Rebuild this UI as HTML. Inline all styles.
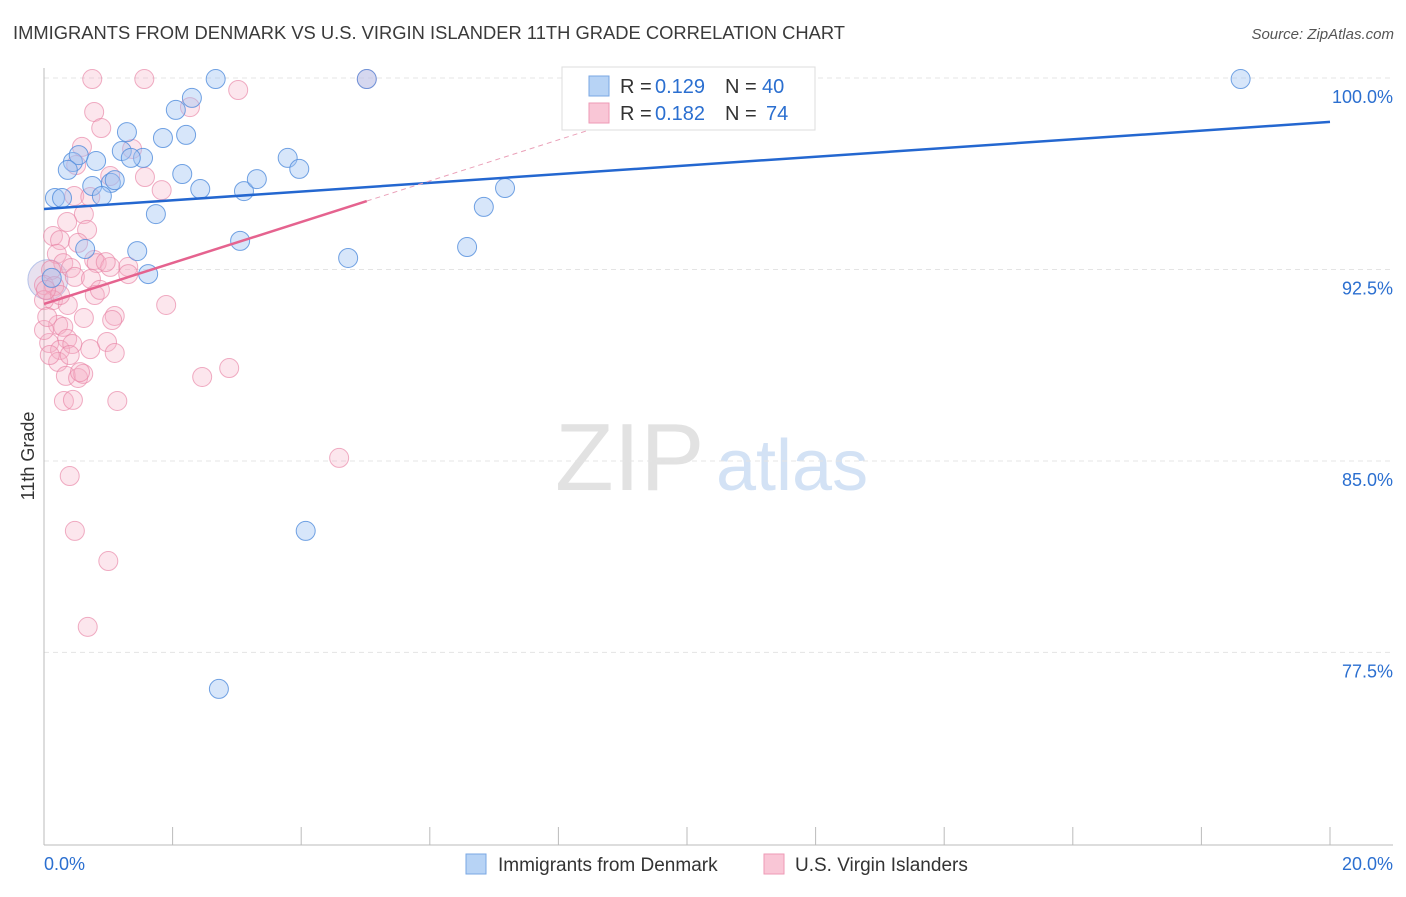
<!DOCTYPE html>
<html><head><meta charset="utf-8"><style>
body{margin:0;background:#fff;font-family:"Liberation Sans",sans-serif}
svg text{font-family:"Liberation Sans",sans-serif}
</style></head><body>
<svg id="chart" width="1406" height="892" viewBox="0 0 1406 892" xmlns="http://www.w3.org/2000/svg">
<text x="13" y="39" font-size="18" fill="#3a3a3a" textLength="832" lengthAdjust="spacingAndGlyphs">IMMIGRANTS FROM DENMARK VS U.S. VIRGIN ISLANDER 11TH GRADE CORRELATION CHART</text>
<text x="1394" y="39" font-size="15" font-style="italic" fill="#555" text-anchor="end">Source: ZipAtlas.com</text>
<text transform="translate(34,456) rotate(-90)" font-size="18" fill="#333" text-anchor="middle">11th Grade</text>
<g>
<text x="555" y="490" font-family="Liberation Serif,serif" font-size="96" fill="#e2e2e2">ZIP</text>
<text x="716" y="490" font-size="72" fill="#d3e2f5">atlas</text>
</g>
<g id="grid"></g>
<g id="axes"></g>
<g id="pts"></g>
<g id="lines"></g>
<g>
<rect x="562" y="67" width="253" height="63" fill="#fff" stroke="#ddd"/>
<rect x="589" y="76" width="20" height="20" fill="#b7d3f5" stroke="#7aa7e3"/>
<rect x="589" y="103" width="20" height="20" fill="#f9c6d6" stroke="#ee9ab6"/>
<text x="620" y="93" font-size="20" fill="#333">R =</text>
<text x="655" y="93" font-size="20" fill="#2b6fd0">0.129</text>
<text x="725" y="93" font-size="20" fill="#333">N =</text>
<text x="762" y="93" font-size="20" fill="#2b6fd0">40</text>
<text x="620" y="120" font-size="20" fill="#333">R =</text>
<text x="655" y="120" font-size="20" fill="#2b6fd0">0.182</text>
<text x="725" y="120" font-size="20" fill="#333">N =</text>
<text x="766" y="120" font-size="20" fill="#2b6fd0">74</text>
</g>
<g>
<rect x="466" y="854" width="20" height="20" fill="#b7d3f5" stroke="#7aa7e3"/>
<text x="498" y="871" font-size="19" fill="#333">Immigrants from Denmark</text>
<rect x="764" y="854" width="20" height="20" fill="#f9c6d6" stroke="#ee9ab6"/>
<text x="795" y="871" font-size="19" fill="#333">U.S. Virgin Islanders</text>
</g>
</svg>
<script>
const blueX=[2.67,5.02,18.61,2.05,2.30,1.29,1.85,2.21,1.21,1.54,1.35,0.45,0.81,0.54,0.37,2.15,3.79,3.97,1.04,0.75,1.10,2.43,3.11,3.31,0.17,0.28,0.90,1.74,6.84,7.17,3.05,0.64,1.45,6.58,4.73,1.62,0.12,4.07,2.72,8.61];
const blueY=[99.96,99.96,99.96,98.75,99.22,97.88,97.65,97.77,97.14,96.87,96.87,96.71,96.75,96.98,96.40,96.24,96.87,96.44,95.89,95.77,96.00,95.65,95.57,96.04,95.30,95.30,95.38,94.67,94.95,95.69,93.62,93.30,93.22,93.38,92.95,92.32,92.17,82.26,76.07,99.84];
const pinkX=[0.75,1.56,5.02,3.02,0.78,0.89,2.27,0.59,1.37,0.50,1.57,1.03,1.83,0.47,0.72,0.62,0.36,0.14,0.25,0.67,0.20,0.53,0.30,0.78,0.82,1.31,1.03,0.42,0.11,0.00,0.16,0.14,0.00,0.48,0.73,0.79,1.90,0.37,0.22,0.30,0.62,1.10,1.06,0.36,0.08,0.25,0.72,0.98,1.10,0.44,0.22,0.34,0.53,0.61,0.56,2.46,2.88,0.31,0.45,1.14,4.59,0.40,0.48,1.00,0.68,1.31,0.96,0.00,0.05,0.09,0.40,0.87,0.25,0.03];
const pinkY=[99.96,99.96,99.96,99.53,98.67,98.04,98.86,97.30,97.22,96.59,96.12,96.16,95.61,95.38,95.34,94.67,94.36,93.81,93.65,94.05,93.11,93.54,92.75,92.87,92.75,92.60,92.60,92.56,92.48,91.89,91.85,91.30,91.30,92.21,92.13,91.50,91.11,91.11,90.33,90.25,90.60,90.68,90.52,89.78,89.62,89.35,89.38,89.66,89.23,89.58,88.88,88.33,88.25,88.41,88.48,88.29,88.64,87.35,87.39,87.35,85.12,84.41,82.26,81.08,78.50,92.32,92.79,90.13,90.64,89.15,89.15,91.70,91.50,91.70];
const blueLine=[0,94.87,20,98.28];
const pinkLine=[0,91.15,5.02,95.18];
const pinkDash=[5.02,95.18,8.6,98.06];
const yTicks=[100,92.5,85,77.5];
const yTickLabels=["100.0%","92.5%","85.0%","77.5%"];
const xTicks=[0,2,4,6,8,10,12,14,16,18,20];

const NS="http://www.w3.org/2000/svg";
const sx=v=>44+v*(1286/20);
const sy=v=>78+(100-v)*25.53;
function mk(tag,attrs,parent){const e=document.createElementNS(NS,tag);for(const k in attrs)e.setAttribute(k,attrs[k]);parent.appendChild(e);return e;}
const grid=document.getElementById('grid'),axes=document.getElementById('axes'),pts=document.getElementById('pts'),lines=document.getElementById('lines');
yTicks.forEach((t,i)=>{
 const l=mk('line',{x1:44,x2:1393,y1:sy(t),y2:sy(t),stroke:'#e4e4e4','stroke-dasharray':'5,4'},grid);
 
 
 const tx=mk('text',{x:1393,y:sy(t)+25,'font-size':18,fill:'#2b6fd0','text-anchor':'end'},grid);
 tx.textContent=yTickLabels[i];
 
 
});
const xa=mk('line',{x1:44,x2:1393,y1:845,y2:845,stroke:'#bbb'},axes);


const ya=mk('line',{x1:44,x2:44,y1:68,y2:845,stroke:'#bbb'},axes);


xTicks.forEach(t=>{
 const l=mk('line',{x1:sx(t),x2:sx(t),y1:827,y2:845,stroke:'#bbb'},axes);
 
 
});
const xl0=mk('text',{x:44,y:870,'font-size':18,fill:'#2b6fd0'},axes);xl0.textContent='0.0%';


const xl1=mk('text',{x:1393,y:870,'font-size':18,fill:'#2b6fd0','text-anchor':'end'},axes);xl1.textContent='20.0%';


const big=mk('circle',{cx:sx(0.06),cy:sy(92.1),r:20,fill:'rgba(190,170,210,0.35)',stroke:'rgba(120,150,220,0.5)'},pts);


pinkX.forEach((x,i)=>{
 const c=mk('circle',{cx:sx(x),cy:sy(pinkY[i]),r:9.5,fill:'rgba(247,178,200,0.32)',stroke:'rgba(232,130,165,0.65)','stroke-width':1},pts);
 
 
});
blueX.forEach((x,i)=>{
 const c=mk('circle',{cx:sx(x),cy:sy(blueY[i]),r:9.5,fill:'rgba(160,196,242,0.42)',stroke:'rgba(80,140,220,0.8)','stroke-width':1},pts);
 
 
});
const bl=mk('line',{x1:sx(blueLine[0]),y1:sy(blueLine[1]),x2:sx(blueLine[2]),y2:sy(blueLine[3]),stroke:'#2467d0','stroke-width':2.5},lines);


const pl=mk('line',{x1:sx(pinkLine[0]),y1:sy(pinkLine[1]),x2:sx(pinkLine[2]),y2:sy(pinkLine[3]),stroke:'#e5638f','stroke-width':2.5},lines);


const pd=mk('line',{x1:sx(pinkDash[0]),y1:sy(pinkDash[1]),x2:sx(pinkDash[2]),y2:sy(pinkDash[3]),stroke:'#eaa0b8','stroke-width':1,'stroke-dasharray':'5,4'},lines);


</script>
</body></html>
